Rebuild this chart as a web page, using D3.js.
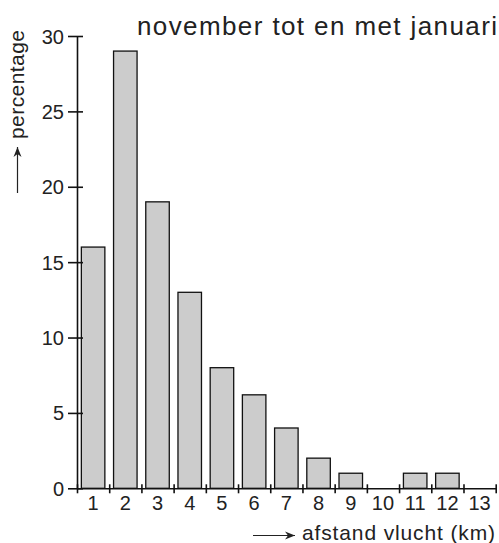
<!DOCTYPE html>
<meta charset="utf-8">
<style>
body {
	margin: 0;
	background: #fff;
}
svg {
	display: block;
	font-family: "Liberation Sans", Arial, sans-serif;
}
text {
	fill: #222;
}
.bar {
	fill: #cccccc;
	stroke: #111;
	stroke-width: 1.3;
}
.axis path,
.axis line {
	stroke: #111;
	stroke-width: 1.6;
	fill: none;
}
</style>
<body>
<svg></svg>
<script src="https://d3js.org/d3.v7.min.js"></script>
<script>

var categories = [1, 2, 3, 4, 5, 6, 7, 8, 9, 10, 11, 12, 13];
var values = [16, 29, 19, 13, 8, 6.2, 4, 2, 1, 0, 1, 1, 0];
var yTicks = [0, 5, 10, 15, 20, 25, 30];
var title = "november tot en met januari";
var xLabel = "afstand vlucht (km)";
var yLabel = "percentage";

var width = 499, height = 543;
var plotLeft = 77, plotRight = 495.7, plotTop = 36, plotBottom = 488.3;

var svg = d3.select("svg")
	.attr("width", width)
	.attr("height", height);

// band scale for bars, linear scale for bin edges (same range)
var x = d3.scaleBand()
	.domain(categories)
	.range([plotLeft, plotRight])
	.paddingInner(0.27)
	.paddingOuter(0.135);

var xEdge = d3.scaleLinear()
	.domain([0.5, 13.5])
	.range([plotLeft, plotRight]);

var y = d3.scaleLinear()
	.domain([0, 30])
	.range([plotBottom, plotTop]);

svg.selectAll(".bar")
	.data(values)
	.enter().append("rect")
	.attr("class", "bar")
	.attr("x", function(d, i) { return x(categories[i]); })
	.attr("width", x.bandwidth())
	.attr("y", function(d) { return y(d); })
	.attr("height", function(d) { return plotBottom - y(d); })
	.style("display", function(d) { return d > 0 ? null : "none"; });

// x axis: edge ticks crossing the line
var xaxis = svg.append("g")
	.attr("class", "axis")
	.attr("transform", "translate(0," + plotBottom + ")")
	.call(d3.axisBottom(xEdge)
		.tickValues(d3.range(0.5, 14, 1))
		.tickSize(5)
		.tickSizeOuter(0)
		.tickFormat(""));
xaxis.selectAll(".tick line").attr("y1", -4);

// x tick labels at bin centres
var xlabels = svg.append("g")
	.attr("transform", "translate(0," + plotBottom + ")")
	.call(d3.axisBottom(x).tickSize(0).tickPadding(8));
xlabels.select(".domain").remove();
xlabels.selectAll("text")
	.attr("fill", "#222")
	.style("font-size", "20px");

// y axis
var yaxis = svg.append("g")
	.attr("class", "axis")
	.attr("transform", "translate(" + plotLeft + ",0)")
	.call(d3.axisLeft(y)
		.tickValues(yTicks)
		.tickSize(9)
		.tickSizeOuter(0)
		.tickPadding(4));
yaxis.selectAll(".tick line").attr("x2", 6).attr("x1", -9);
yaxis.selectAll("text")
	.attr("fill", "#222")
	.attr("dy", "0.35em")
	.style("font-size", "20px");

// title
svg.append("text")
	.attr("x", 137)
	.attr("y", 35)
	.attr("textLength", 360)
	.attr("lengthAdjust", "spacing")
	.style("font-size", "26px")
	.text(title);

// arrow marker
svg.append("defs").append("marker")
	.attr("id", "head")
	.attr("viewBox", "0 0 10 10")
	.attr("refX", 10)
	.attr("refY", 5)
	.attr("markerWidth", 10)
	.attr("markerHeight", 10)
	.attr("markerUnits", "userSpaceOnUse")
	.attr("orient", "auto")
	.append("path")
	.attr("d", "M0,1 L10,5 L0,9 L3,5 Z")
	.attr("fill", "#222");

// y label with arrow
svg.append("line")
	.attr("x1", 17.5).attr("y1", 193)
	.attr("x2", 17.5).attr("y2", 147)
	.attr("stroke", "#222")
	.attr("stroke-width", 1.2)
	.attr("marker-end", "url(#head)");

svg.append("text")
	.attr("transform", "translate(24,139) rotate(-90)")
	.attr("textLength", 109)
	.attr("lengthAdjust", "spacing")
	.style("font-size", "21px")
	.text(yLabel);

// x label with arrow
svg.append("line")
	.attr("x1", 253).attr("y1", 535.5)
	.attr("x2", 295).attr("y2", 535.5)
	.attr("stroke", "#222")
	.attr("stroke-width", 1.2)
	.attr("marker-end", "url(#head)");

svg.append("text")
	.attr("x", 302)
	.attr("y", 540)
	.attr("textLength", 193)
	.attr("lengthAdjust", "spacing")
	.style("font-size", "21px")
	.text(xLabel);

</script>
</body>
